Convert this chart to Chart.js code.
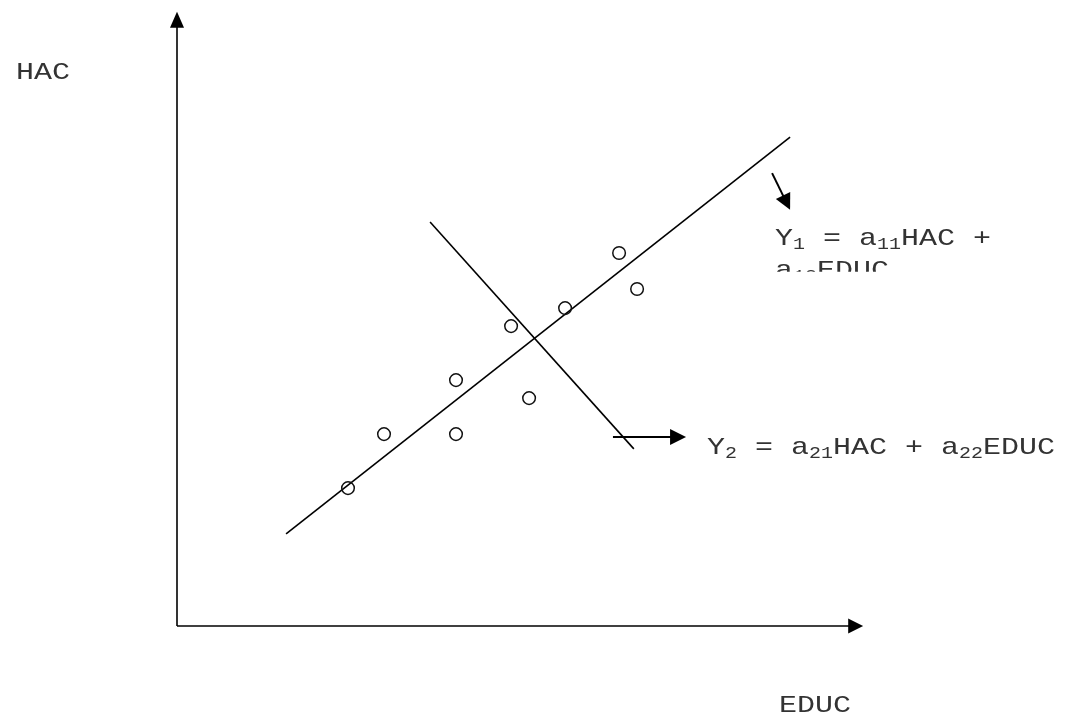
<!DOCTYPE html>
<html>
<head>
<meta charset="utf-8">
<script src="https://cdn.jsdelivr.net/npm/chart.js@4/dist/chart.umd.min.js"></script>
<style>
  html, body { margin: 0; padding: 0; background: #fff; }
  #wrap { width: 1070px; height: 715px; position: relative; }
</style>
</head>
<body>
<div id="wrap"><canvas id="chart"></canvas></div>
<script>
// ---------------------------
//  Datos (unidades del gráfico, origen en el cruce de ejes)
// ---------------------------
const puntosX = [4.75, 5.75, 7.75, 7.75, 9.78, 9.28, 10.78, 12.28, 12.78];
const puntosY = [3.83, 5.33, 5.33, 6.83, 6.33, 8.33, 8.83, 10.36, 9.36];

// recta Y1 (ajuste) y recta Y2 (perpendicular)
const rectaY1X = [3.03, 17.03];
const rectaY1Y = [2.56, 13.58];
const rectaY2X = [7.03, 12.69];
const rectaY2Y = [11.22, 4.92];

// flechas de las etiquetas
const flecha1 = [[16.53, 12.58], [17.03, 11.56]];
const flecha2 = [[12.11, 5.25], [14.14, 5.25]];

// extremos de los ejes
const ejeXmax = 19.06;
const ejeYmax = 17.06;

const tituloY = 'HAC';
const tituloX = 'EDUC';
// texto con subíndices: [texto, esSub]
const ecuacion1 = [['Y', 0], ['1', 1], [' = a', 0], ['11', 1], ['HAC +', 0]];
const ecuacion1b = [['a', 0], ['12', 1], ['EDUC', 0]];
const ecuacion2 = [['Y', 0], ['2', 1], [' = a', 0], ['21', 1], ['HAC + a', 0], ['22', 1], ['EDUC', 0]];

const FUENTE = '"Courier New", "Liberation Mono", monospace';
const ESCALA_V = 0.8; // la Liberation Mono es más alta que la Courier

function toXY(xs, ys) {
  return xs.map((x, i) => ({ x, y: ys[i] }));
}

// texto simple, un poco achatado
function drawText(ctx, t, x, y, size) {
  ctx.save();
  ctx.translate(x, y);
  ctx.scale(1, ESCALA_V);
  ctx.font = size + 'px ' + FUENTE;
  ctx.fillText(t, 0, 0);
  ctx.restore();
}

// dibuja un texto con subíndices
function drawRich(ctx, parts, x, y) {
  let cx = x;
  parts.forEach(([t, sub]) => {
    const size = sub ? 20 : 30;
    drawText(ctx, t, cx, sub ? y + 4 : y, size);
    ctx.font = size + 'px ' + FUENTE;
    cx += ctx.measureText(t).width;
  });
}

function arrowHead(ctx, x1, y1, x2, y2, len, half) {
  const ang = Math.atan2(y2 - y1, x2 - x1);
  ctx.beginPath();
  ctx.moveTo(x2, y2);
  ctx.lineTo(x2 - len * Math.cos(ang) + half * Math.sin(ang), y2 - len * Math.sin(ang) - half * Math.cos(ang));
  ctx.lineTo(x2 - len * Math.cos(ang) - half * Math.sin(ang), y2 - len * Math.sin(ang) + half * Math.cos(ang));
  ctx.closePath();
  ctx.fill();
}

// ejes con flecha, flechas y textos
const dibujoExtra = {
  id: 'dibujoExtra',
  afterDatasetsDraw(chart) {
    const { ctx, scales: { x, y } } = chart;
    const px = v => x.getPixelForValue(v);
    const py = v => y.getPixelForValue(v);
    ctx.save();
    ctx.strokeStyle = '#000';
    ctx.fillStyle = '#000';
    ctx.lineWidth = 1.6;

    // eje Y
    ctx.beginPath();
    ctx.moveTo(px(0), py(0));
    ctx.lineTo(px(0), py(ejeYmax) + 10);
    ctx.stroke();
    arrowHead(ctx, px(0), py(0), px(0), py(ejeYmax), 16, 7);
    // eje X
    ctx.beginPath();
    ctx.moveTo(px(0), py(0));
    ctx.lineTo(px(ejeXmax) - 10, py(0));
    ctx.stroke();
    arrowHead(ctx, px(0), py(0), px(ejeXmax), py(0), 15, 7.5);

    // flechas de etiquetas
    ctx.lineWidth = 2;
    [flecha1, flecha2].forEach(([a, b]) => {
      const x1 = px(a[0]), y1 = py(a[1]), x2 = px(b[0]), y2 = py(b[1]);
      ctx.beginPath();
      ctx.moveTo(x1, y1);
      ctx.lineTo(x2 - (x2 - x1) * 0.15, y2 - (y2 - y1) * 0.15);
      ctx.stroke();
      arrowHead(ctx, x1, y1, x2, y2, 16, 8);
    });

    // textos
    ctx.fillStyle = '#333';
    ctx.textBaseline = 'alphabetic';
    drawText(ctx, tituloY, px(-4.47), py(15.19), 30);
    drawText(ctx, tituloX, px(16.72), py(-2.39), 30);
    drawRich(ctx, ecuacion2, px(14.72), py(4.78));

    // ecuación 1 recortada en su cuadro
    ctx.save();
    ctx.beginPath();
    ctx.rect(px(16.3), py(11.4), 280, py(9.84) - py(11.4));
    ctx.clip();
    drawRich(ctx, ecuacion1, px(16.61), py(10.58));
    drawRich(ctx, ecuacion1b, px(16.61), py(10.58) + 32);
    ctx.restore();

    ctx.restore();
  }
};

new Chart(document.getElementById('chart'), {
  type: 'scatter',
  data: {
    datasets: [
      {
        data: toXY(puntosX, puntosY),
        pointStyle: 'circle',
        pointRadius: 6.3,
        pointBorderWidth: 1.5,
        pointBorderColor: '#111',
        pointBackgroundColor: 'rgba(255,255,255,0)',
        showLine: false
      },
      {
        type: 'line',
        data: toXY(rectaY1X, rectaY1Y),
        borderColor: '#000',
        borderWidth: 1.6,
        pointRadius: 0,
        fill: false
      },
      {
        type: 'line',
        data: toXY(rectaY2X, rectaY2Y),
        borderColor: '#000',
        borderWidth: 1.6,
        pointRadius: 0,
        fill: false
      }
    ]
  },
  options: {
    responsive: true,
    maintainAspectRatio: false,
    animation: false,
    layout: { padding: { left: 177, right: 173, top: 14, bottom: 89 } },
    plugins: { legend: { display: false }, tooltip: { enabled: false } },
    scales: {
      x: { type: 'linear', min: 0, max: 20, display: false },
      y: { type: 'linear', min: 0, max: 17, display: false }
    },
    elements: { line: { tension: 0 } },
    clip: false
  },
  plugins: [dibujoExtra]
});
</script>
</body>
</html>
